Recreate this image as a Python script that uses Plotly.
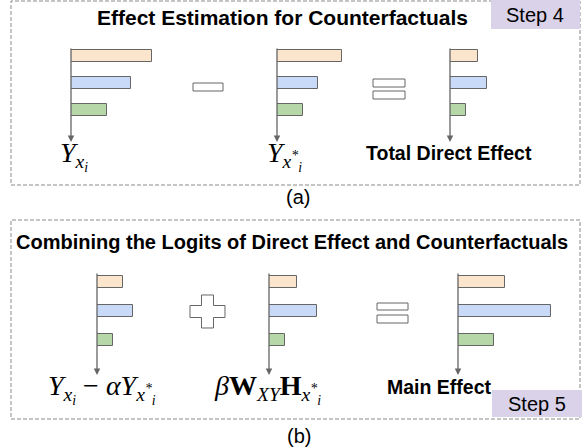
import plotly.graph_objects as go

W, H = 587, 448

# ---- data (bar lengths, arbitrary units; 3 classes per panel) ----
classes = [0, 1, 2]
colors = ["#fce5cd", "#c9daf8", "#b6d7a8"]
y_factual = [81, 60, 36]          # Y_{x_i}
y_counterfactual = [65, 41, 26]   # Y_{x_i^*}
total_direct_effect = [28, 37, 16]
debiased = [26, 36, 16]           # Y_{x_i} - alpha Y_{x_i^*}
counterfactual_logits = [28, 48, 16]  # beta W_XY H_{x_i^*}
main_effect = [47, 93, 36]

panels = [
    # values, axis x (px), row
    (y_factual, 71, "top"),
    (y_counterfactual, 277, "top"),
    (total_direct_effect, 450, "top"),
    (debiased, 97, "bottom"),
    (counterfactual_logits, 269, "bottom"),
    (main_effect, 458, "bottom"),
]
rows = {
    # axis top px, axis bottom px, first bar centre px, spacing px, bar thickness px
    "top": (47, 142, 56, 27, 11.5),
    "bottom": (272, 375, 282, 29, 12),
}

def px(x):
    return x / W

def py(y):
    return 1 - y / H

fig = go.Figure()
layout = {}
annotations = []
for i, (vals, ax_x, row) in enumerate(panels, start=1):
    top, bot, c0, sp, th = rows[row]
    sfx = "" if i == 1 else str(i)
    xa, ya = "x" + sfx, "y" + sfx
    ymin = (top - c0) / sp
    ymax = (bot - c0) / sp
    fig.add_trace(go.Bar(
        x=vals, y=classes, orientation="h", width=th / sp,
        marker=dict(color=colors, line=dict(color="#666666", width=1)),
        xaxis=xa, yaxis=ya, showlegend=False, hoverinfo="skip",
    ))
    layout["xaxis" + sfx] = dict(domain=[px(ax_x), px(ax_x + 100)], range=[0, 100],
                                 visible=False, anchor=ya, fixedrange=True)
    layout["yaxis" + sfx] = dict(domain=[py(bot), py(top)], range=[ymax, ymin],
                                 visible=False, anchor=xa, fixedrange=True)
    annotations.append(dict(
        xref=xa, yref=ya, axref=xa, ayref=ya, x=0, y=ymax, ax=0, ay=ymin,
        showarrow=True, arrowhead=2, arrowsize=1, arrowwidth=1.3,
        arrowcolor="#666666", text="", standoff=0, startstandoff=0,
    ))

shapes = []
def rect(x0, y0, x1, y1, **kw):
    d = dict(type="rect", xref="paper", yref="paper",
             x0=px(x0), x1=px(x1), y0=py(y1), y1=py(y0))
    d.update(kw)
    shapes.append(d)

dash = dict(color="#8a8a8a", width=1, dash="4px,2px")
rect(11, 1, 580, 185, line=dash, layer="below")
rect(11, 220, 580, 419, line=dash, layer="below")
rect(491, 0, 580, 29, line=dict(width=0), fillcolor="#d9d2e9", layer="below")
rect(492, 390, 582, 417, line=dict(width=0), fillcolor="#d9d2e9", layer="below")

op = dict(line=dict(color="#666666", width=1), fillcolor="white")
rect(193, 83, 223, 91, **op)
rect(373, 79, 405, 87, **op)
rect(373, 91, 405, 99, **op)
rect(377, 303, 408, 310, **op)
rect(377, 315, 408, 323, **op)

# plus sign
cx, cy, hx, hy, a = 207.5, 311.5, 17.5, 16.5, 6
pts = [(cx - a, cy - hy), (cx + a, cy - hy), (cx + a, cy - a), (cx + hx, cy - a),
       (cx + hx, cy + a), (cx + a, cy + a), (cx + a, cy + hy), (cx - a, cy + hy),
       (cx - a, cy + a), (cx - hx, cy + a), (cx - hx, cy - a), (cx - a, cy - a)]
path = "M " + " L ".join(f"{px(x):.5f},{py(y):.5f}" for x, y in pts) + " Z"
shapes.append(dict(type="path", xref="paper", yref="paper", path=path,
                   line=dict(color="#666666", width=1), fillcolor="white"))

sans = "Liberation Sans, Arial, sans-serif"
serif = "Liberation Serif, Times New Roman, serif"

def text(x, y, s, size, family=sans):
    annotations.append(dict(xref="paper", yref="paper", x=px(x), y=py(y), text=s,
                            showarrow=False, xanchor="center", yanchor="middle",
                            font=dict(family=family, size=size, color="black")))

text(282, 18, "<b>Effect Estimation for Counterfactuals</b>", 21)
text(535, 15, "Step 4", 20)
text(74, 156, "<i>Y</i><sub><i>x<sub>i</sub></i></sub>", 28, serif)
text(284, 156, "<i>Y</i><sub><i>x<sup>*</sup><sub>i</sub></i></sub>", 28, serif)
text(449, 153, "<b>Total Direct Effect</b>", 19.5)
text(298, 197, "(a)", 20)
text(292, 242, "<b>Combining the Logits of Direct Effect and Counterfactuals</b>", 20)
text(102, 389, "<i>Y</i><sub><i>x<sub>i</sub></i></sub> − <i>αY</i><sub><i>x<sup>*</sup><sub>i</sub></i></sub>", 28, serif)
text(267, 389, "<i>β</i><b>W</b><sub><i>XY</i></sub><b>H</b><sub><i>x<sup>*</sup><sub>i</sub></i></sub>", 28, serif)
text(439, 387, "<b>Main Effect</b>", 19.5)
text(537, 404, "Step 5", 20)
text(299, 436, "(b)", 20)

fig.update_layout(
    width=W, height=H, margin=dict(l=0, r=0, t=0, b=0),
    paper_bgcolor="white", plot_bgcolor="rgba(0,0,0,0)",
    shapes=shapes, annotations=annotations, bargap=0, **layout,
)
fig.write_html(
    "out.html", config={"displayModeBar": False},
    post_script="document.body.style.margin='0';document.body.style.overflow='hidden';",
)
